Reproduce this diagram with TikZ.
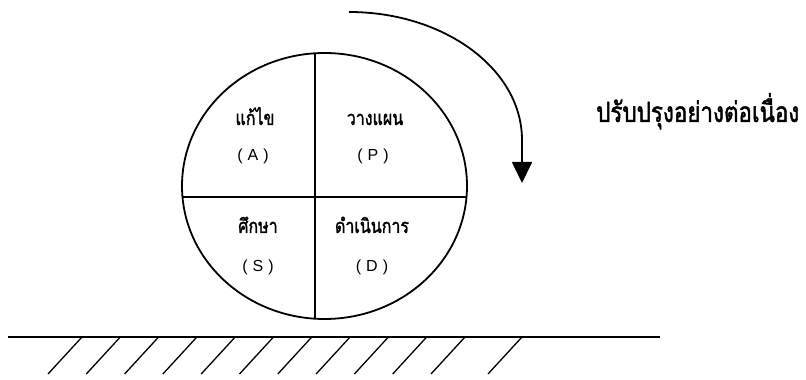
\documentclass[tikz,border=0pt]{standalone}
\usepackage{fontspec}
\setmainfont{Liberation Sans}
\newfontfamily\thaifont[Script=Thai, FakeStretch=0.8, FakeBold=1.5]{Loma}
\usetikzlibrary{shapes.geometric, arrows.meta}
\definecolor{inkcolor}{RGB}{0,0,0}
\tikzset{
    wheel/.style={ellipse, draw=inkcolor, line width=1.8pt, inner sep=0pt,
        minimum width=285pt, minimum height=266pt},
    divider/.style={draw=inkcolor, line width=1.8pt},
    steplabel/.style={anchor=base, inner sep=0pt, font=\thaifont\fontsize{20}{22}\selectfont},
    steptag/.style={anchor=base, inner sep=0pt, font=\fontsize{16}{18}\selectfont},
    turnarrow/.style={-{Triangle[length=21pt, width=20pt]}, line width=1.8pt},
    ground/.style={line width=1.8pt},
    hatch/.style={line width=1.3pt}
}
\newcommand{\tagtext}[1]{(\hspace{5pt}#1\hspace{5pt})}

\begin{document}
\begin{tikzpicture}[x=1pt, y=1pt]
    \useasboundingbox (0,0) rectangle (806,380);

    \node[wheel] (wheel) at (324.5,194) {};
    \begin{scope}
        \clip (324.5,194) ellipse [x radius=142.5, y radius=133];
        \draw[divider] (315,380) -- (315,0);
        \draw[divider] (150,183) -- (500,183);
    \end{scope}

    \node[steplabel] (act)   at (255,255) {แก้ไข};
    \node[steptag]   (actT)  at (253,219) {\tagtext{A}};
    \node[steplabel] (plan)  at (375,255) {วางแผน};
    \node[steptag]   (planT) at (373,219) {\tagtext{P}};
    \node[steplabel] (study) at (258,147) {ศึกษา};
    \node[steptag]   (studyT) at (258,108) {\tagtext{S}};
    \node[steplabel] (do)    at (372,147) {ดำเนินการ};
    \node[steptag]   (doT)   at (372,108) {\tagtext{D}};

    \coordinate (turnstart) at (349,368);
    \coordinate (turnend) at (522,197);
    \draw[turnarrow] (turnstart) arc[start angle=90, end angle=0, x radius=173, y radius=128] -- (turnend);

    \node[anchor=base west, inner sep=0pt, font=\thaifont\fontsize{28}{31}\selectfont] (title) at (596,258) {ปรับปรุงอย่างต่อเนื่อง};

    \coordinate (groundL) at (8,43);
    \coordinate (groundR) at (660,43);
    \draw[ground] (groundL) -- (groundR);
    \foreach \hx in {82,120.3,158.6,196.9,235.2,273.5,311.8,350.1,388.4,426.7,465,522}
        \draw[hatch] (\hx,43) -- (\hx-34,6);

\end{tikzpicture}
\end{document}
